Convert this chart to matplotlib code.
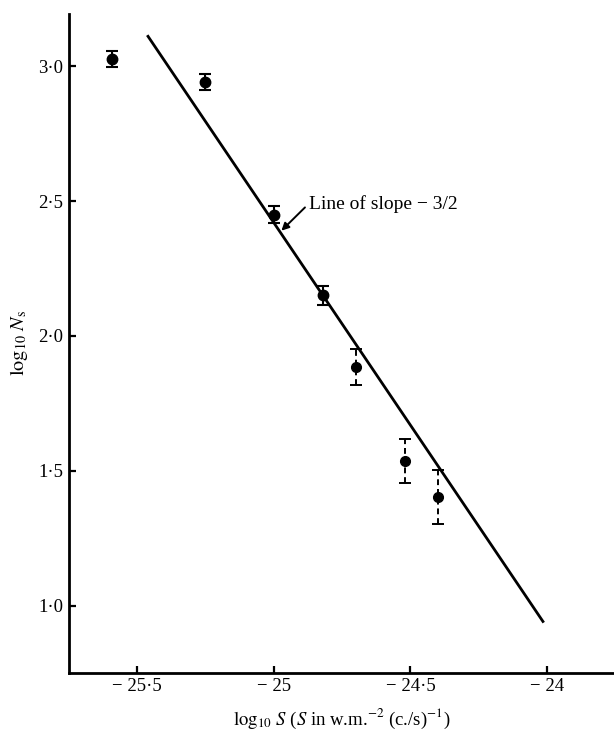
import matplotlib
matplotlib.use("Agg")
import matplotlib.pyplot as plt
import numpy as np

# source counts: log10 S vs log10 N_s
log_s = [-25.59, -25.25, -25.0, -24.82, -24.70, -24.52, -24.40]
log_n = [3.026, 2.941, 2.450, 2.150, 1.885, 1.537, 1.404]
err_n = [0.028, 0.028, 0.030, 0.035, 0.065, 0.082, 0.100]
dashed = [False, False, False, False, True, True, True]

# line of slope -3/2
line_x = [-25.46, -24.015]
line_c = 2.42  # value at log S = -25
line_slope = -1.5

x_ticks = [-25.5, -25.0, -24.5, -24.0]
x_tick_labels = ["\u2212 25\u00b75", "\u2212 25", "\u2212 24\u00b75", "\u2212 24"]
y_ticks = [1.0, 1.5, 2.0, 2.5, 3.0]
y_tick_labels = ["1\u00b70", "1\u00b75", "2\u00b70", "2\u00b75", "3\u00b70"]

plt.rcParams["font.family"] = ["Liberation Serif", "DejaVu Serif"]
plt.rcParams["mathtext.fontset"] = "stix"

fig = plt.figure(figsize=(6.14, 7.33), dpi=100)
ax = fig.add_axes([0.112, 0.082, 0.888, 0.899])

xs = np.array(log_s)
ys = np.array(log_n)
es = np.array(err_n)
dm = np.array(dashed)

# solid error bars
ax.errorbar(xs[~dm], ys[~dm], yerr=es[~dm], fmt="o", color="black",
            markersize=7.5, capsize=4, elinewidth=1.5, capthick=1.5)
# dashed error bars
_, _, bars = ax.errorbar(xs[dm], ys[dm], yerr=es[dm], fmt="o", color="black",
                         markersize=7, capsize=4, elinewidth=1.4, capthick=1.4)
for b in bars:
    b.set_linestyle((0, (3, 2)))

lx = np.array(line_x)
ax.plot(lx, line_c + line_slope * (lx + 25.0), color="black", lw=2.0)

ax.annotate("Line of slope \u2212 3/2", xy=(-24.972, 2.39), xytext=(-24.872, 2.49),
            fontsize=14, va="center", ha="left",
            arrowprops=dict(arrowstyle="-|>", color="black", lw=1.4,
                            mutation_scale=11, shrinkA=1, shrinkB=0,
                            relpos=(0, 0.5)))

ax.set_xlim(-25.75, -23.755)
ax.set_ylim(0.752, 3.193)
ax.set_xticks(x_ticks)
ax.set_xticklabels(x_tick_labels, fontsize=13.5)
ax.set_yticks(y_ticks)
ax.set_yticklabels(y_tick_labels, fontsize=13.5)
ax.tick_params(direction="in", length=5, width=1.6, pad=4)

for side in ["top", "right"]:
    ax.spines[side].set_visible(False)
for side in ["left", "bottom"]:
    ax.spines[side].set_linewidth(2.0)

ax.set_xlabel(r"$\log_{10}\,S$ ($S$ in w.m.$^{-2}$ (c./s)$^{-1}$)", fontsize=13.5, labelpad=8)
ax.set_ylabel(r"$\log_{10}\,N_{\rm s}$", fontsize=14.5, labelpad=6)

fig.savefig("out.png", dpi=100)
